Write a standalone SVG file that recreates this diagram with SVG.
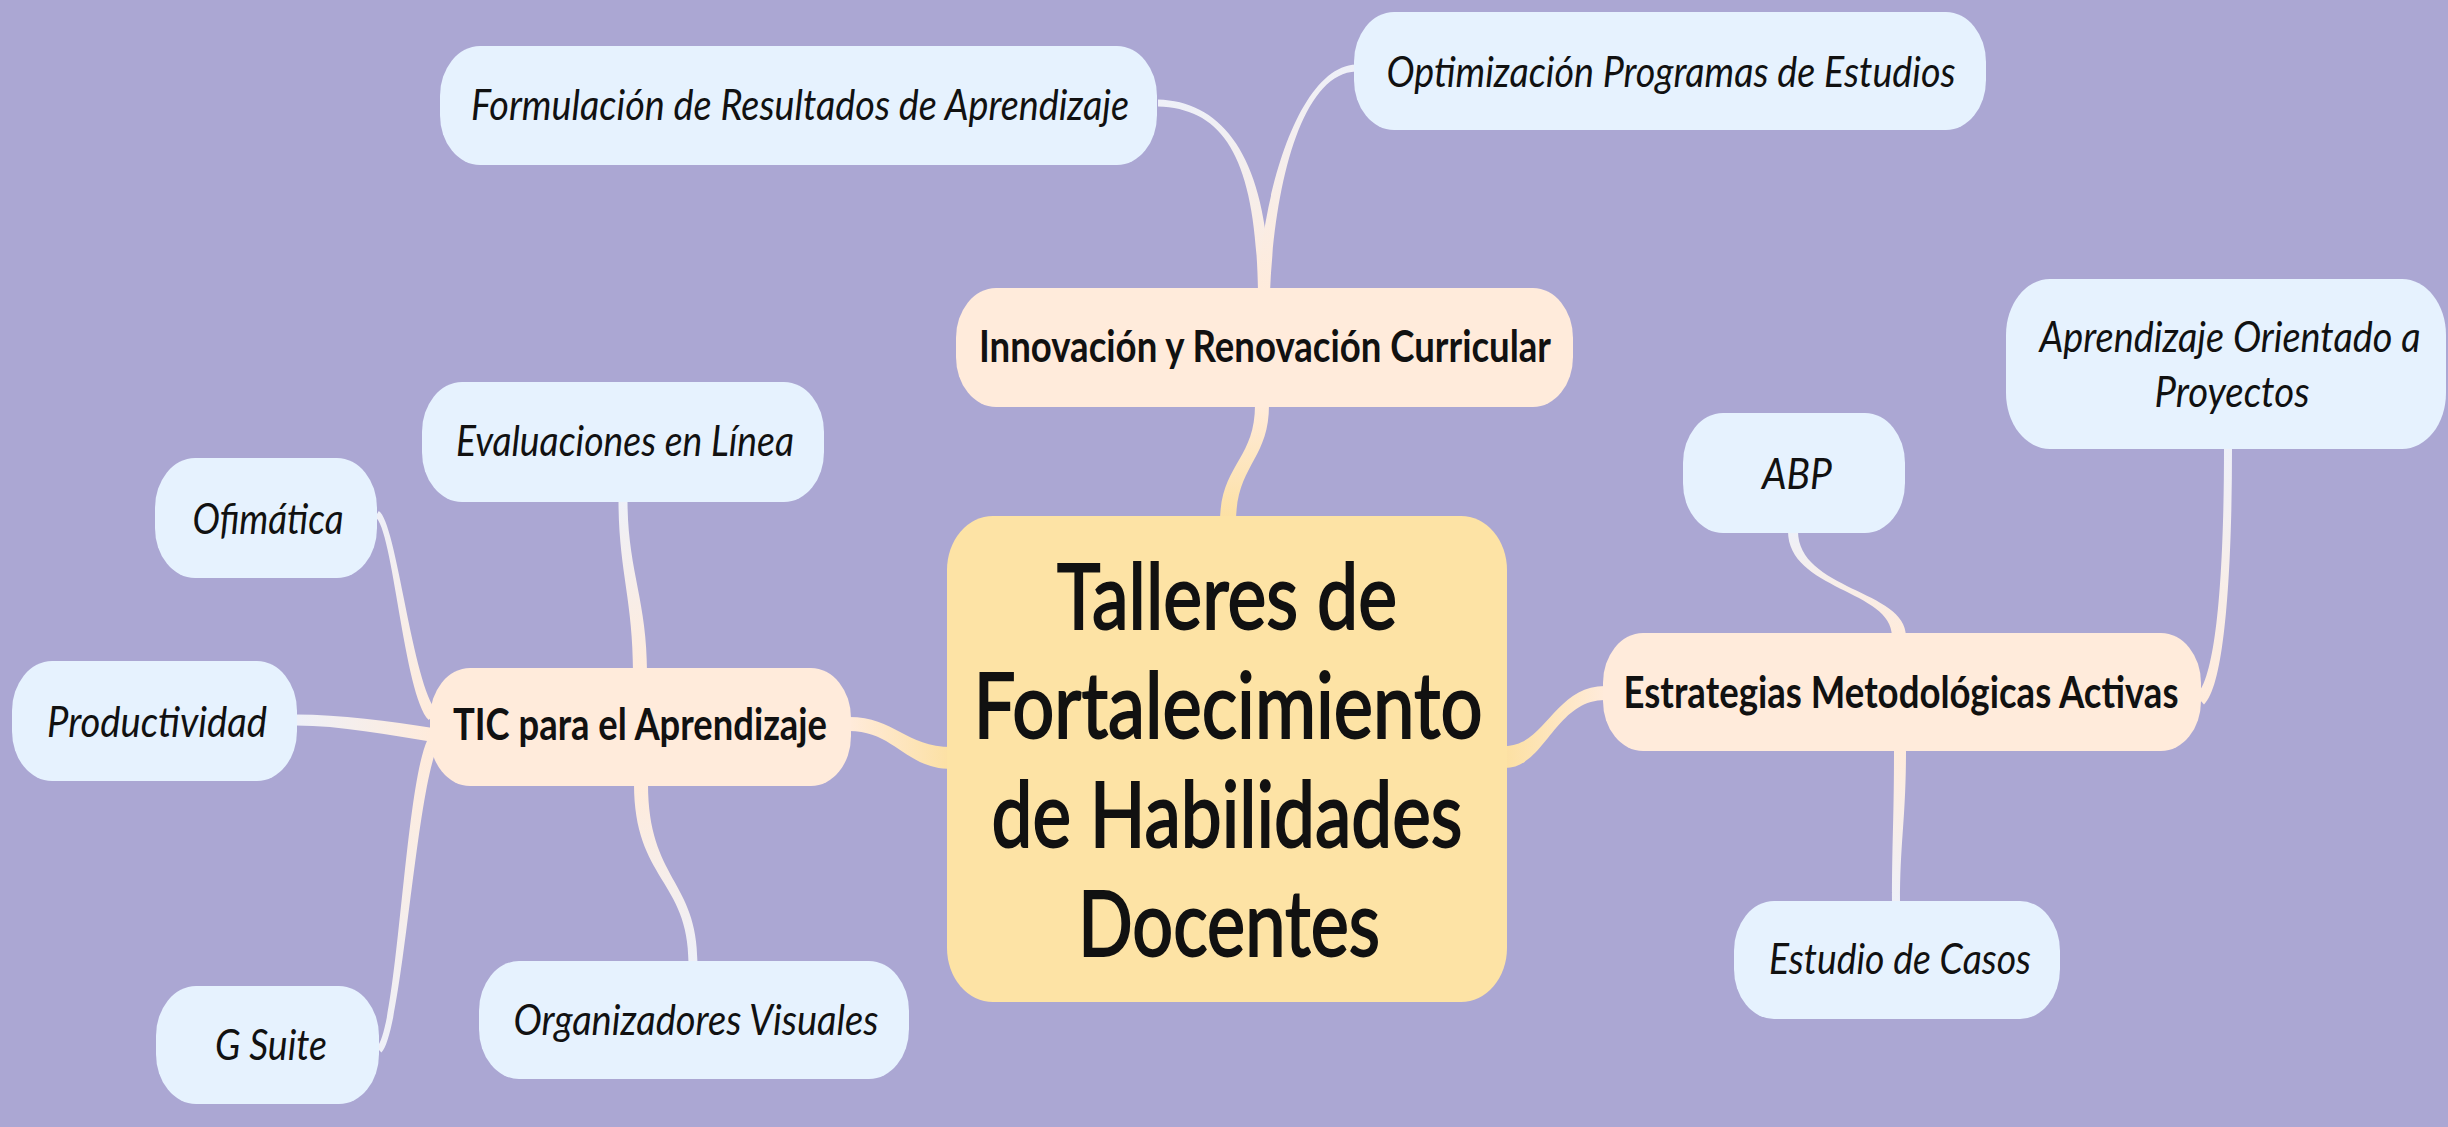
<svg xmlns="http://www.w3.org/2000/svg" width="2448" height="1127" viewBox="0 0 2448 1127">
<defs>
<style>
.bg{fill:#ABA7D3}
.child rect{fill:#E6F2FE}
.branch rect{fill:#FFEBDB}
.central rect{fill:#FDE3A5}
.ct{font-family:Lato,"Liberation Sans",sans-serif;font-style:italic;font-size:43px;fill:#111;text-anchor:middle}
.bt{font-family:Lato,"Liberation Sans",sans-serif;font-weight:bold;font-size:43px;fill:#111;text-anchor:middle}
.mt{font-family:Lato,"Liberation Sans",sans-serif;font-size:92px;fill:#111;stroke:#111;stroke-width:2;text-anchor:middle}
</style>
<linearGradient id="cUp" x1="0" y1="1" x2="0" y2="0"><stop offset="0" stop-color="#FCE0A2"/><stop offset="1" stop-color="#FFEBDB"/></linearGradient>
<linearGradient id="cLeft" x1="1" y1="0" x2="0" y2="0"><stop offset="0" stop-color="#FCE0A2"/><stop offset="1" stop-color="#FFEBDB"/></linearGradient>
<linearGradient id="cRight" x1="0" y1="0" x2="1" y2="0"><stop offset="0" stop-color="#FCE0A2"/><stop offset="1" stop-color="#FFEBDB"/></linearGradient>
<linearGradient id="gUp" x1="0" y1="1" x2="0" y2="0"><stop offset="0" stop-color="#FFEBDB"/><stop offset="1" stop-color="#EEF0F8"/></linearGradient>
<linearGradient id="gDown" x1="0" y1="0" x2="0" y2="1"><stop offset="0" stop-color="#FFEBDB"/><stop offset="1" stop-color="#EEF0F8"/></linearGradient>
<linearGradient id="gLeft" x1="1" y1="0" x2="0" y2="0"><stop offset="0" stop-color="#FFEBDB"/><stop offset="1" stop-color="#EEF0F8"/></linearGradient>
<linearGradient id="gRight" x1="0" y1="0" x2="1" y2="0"><stop offset="0" stop-color="#FFEBDB"/><stop offset="1" stop-color="#EEF0F8"/></linearGradient>
</defs>
<rect class="bg" x="0" y="0" width="2448" height="1127"/>
<g id="connectors">
<path fill="url(#cUp)" d="M1236,522 C1236,465 1269,460 1269,405 L1255,405 C1255,460 1220,465 1220,522 Z"/>
<path fill="url(#gUp)" d="M1270,292 C1268,160 1225,101.5 1158,99.5 L1158,106.5 C1225,108.5 1256,160 1258,292 Z"/>
<path fill="url(#gUp)" d="M1270,292 C1274,190 1300,73.5 1356,71.5 L1356,64.5 C1300,66.5 1262,190 1258,292 Z"/>
<path fill="url(#cLeft)" d="M952,747 C905,747 895,717 849,717 L849,731 C895,731 905,769 952,769 Z"/>
<path fill="url(#cRight)" d="M1505,768 C1545,768 1555,700 1605,700 L1605,686 C1555,686 1545,746 1505,746 Z"/>
<path fill="url(#gUp)" d="M647,672 C647,600 627.5,570 627.5,500 L618.5,500 C618.5,570 633,600 633,672 Z"/>
<path fill="url(#gDown)" d="M634,784 C634,880 688.5,880 688.5,963 L697.5,963 C697.5,880 648,880 648,784 Z"/>
<path fill="url(#gUp)" d="M437.3,711.9 C412.3,685.9 396.8,522 378.8,511 L375.2,517 C393.2,528 403.7,694.1 428.7,720.1 Z"/>
<path fill="url(#gLeft)" d="M433,728 C390,721 340,714.5 296,714.5 L296,725.5 C340,725.5 390,735 433,742 Z"/>
<path fill="url(#gDown)" d="M427.6,739.4 C404.6,787.4 397.6,1027.5 376.6,1047.5 L381.4,1052.5 C402.4,1032.5 415.4,792.6 438.4,744.6 Z"/>
<path fill="url(#gUp)" d="M1906,636 C1906,590 1798,590 1798,531 L1788,531 C1788,590 1892,590 1892,636 Z"/>
<path fill="url(#gUp)" d="M2204,704.4 C2226,684.4 2232,560 2232,448 L2224,448 C2224,560 2218,675.6 2196,695.6 Z"/>
<path fill="url(#gDown)" d="M1894,749 C1894,820 1892,840 1892,903 L1900,903 C1900,840 1906,820 1906,749 Z"/>
</g>
<g id="central" class="central">
<rect x="947" y="516" width="560" height="486" rx="46" ry="54"/>
<text class="mt" x="1227" y="629" textLength="340" lengthAdjust="spacingAndGlyphs">Talleres de</text>
<text class="mt" x="1228" y="738" textLength="509" lengthAdjust="spacingAndGlyphs">Fortalecimiento</text>
<text class="mt" x="1227" y="847" textLength="471" lengthAdjust="spacingAndGlyphs">de Habilidades</text>
<text class="mt" x="1229" y="956" textLength="302" lengthAdjust="spacingAndGlyphs">Docentes</text>
</g>
<g id="innovacion" class="branch">
<rect x="956" y="288" width="617" height="119" rx="40" ry="50"/>
<text class="bt" x="1265" y="362" textLength="572" lengthAdjust="spacingAndGlyphs">Innovación y Renovación Curricular</text>
</g>
<g id="tic" class="branch">
<rect x="430" y="668" width="421" height="118" rx="40" ry="50"/>
<text class="bt" x="640" y="740" textLength="374" lengthAdjust="spacingAndGlyphs">TIC para el Aprendizaje</text>
</g>
<g id="estrategias" class="branch">
<rect x="1603" y="633" width="598" height="118" rx="40" ry="50"/>
<text class="bt" x="1901" y="708" textLength="555" lengthAdjust="spacingAndGlyphs">Estrategias Metodológicas Activas</text>
</g>
<g id="formulacion" class="child">
<rect x="440" y="46" width="717" height="119" rx="40" ry="50"/>
<text class="ct" x="800" y="120" textLength="658" lengthAdjust="spacingAndGlyphs">Formulación de Resultados de Aprendizaje</text>
</g>
<g id="optimizacion" class="child">
<rect x="1354" y="12" width="632" height="118" rx="40" ry="50"/>
<text class="ct" x="1671" y="87" textLength="569" lengthAdjust="spacingAndGlyphs">Optimización Programas de Estudios</text>
</g>
<g id="evaluaciones" class="child">
<rect x="422" y="382" width="402" height="120" rx="40" ry="50"/>
<text class="ct" x="625" y="456" textLength="338" lengthAdjust="spacingAndGlyphs">Evaluaciones en Línea</text>
</g>
<g id="ofimatica" class="child">
<rect x="155" y="458" width="222" height="120" rx="40" ry="50"/>
<text class="ct" x="268" y="534" textLength="151" lengthAdjust="spacingAndGlyphs">Ofimática</text>
</g>
<g id="productividad" class="child">
<rect x="12" y="661" width="285" height="120" rx="40" ry="50"/>
<text class="ct" x="157" y="737" textLength="220" lengthAdjust="spacingAndGlyphs">Productividad</text>
</g>
<g id="gsuite" class="child">
<rect x="156" y="986" width="223" height="118" rx="40" ry="50"/>
<text class="ct" x="271" y="1060" textLength="112" lengthAdjust="spacingAndGlyphs">G Suite</text>
</g>
<g id="organizadores" class="child">
<rect x="479" y="961" width="430" height="118" rx="40" ry="50"/>
<text class="ct" x="696" y="1035" textLength="365" lengthAdjust="spacingAndGlyphs">Organizadores Visuales</text>
</g>
<g id="abp" class="child">
<rect x="1683" y="413" width="222" height="120" rx="40" ry="50"/>
<text class="ct" x="1797" y="489" textLength="70" lengthAdjust="spacingAndGlyphs">ABP</text>
</g>
<g id="aprendizaje" class="child">
<rect x="2006" y="279" width="440" height="170" rx="44" ry="56"/>
<text class="ct" x="2230" y="352" textLength="381" lengthAdjust="spacingAndGlyphs">Aprendizaje Orientado a</text>
<text class="ct" x="2232" y="407" textLength="155" lengthAdjust="spacingAndGlyphs">Proyectos</text>
</g>
<g id="estudio" class="child">
<rect x="1734" y="901" width="326" height="118" rx="40" ry="50"/>
<text class="ct" x="1900" y="974" textLength="262" lengthAdjust="spacingAndGlyphs">Estudio de Casos</text>
</g>
</svg>
